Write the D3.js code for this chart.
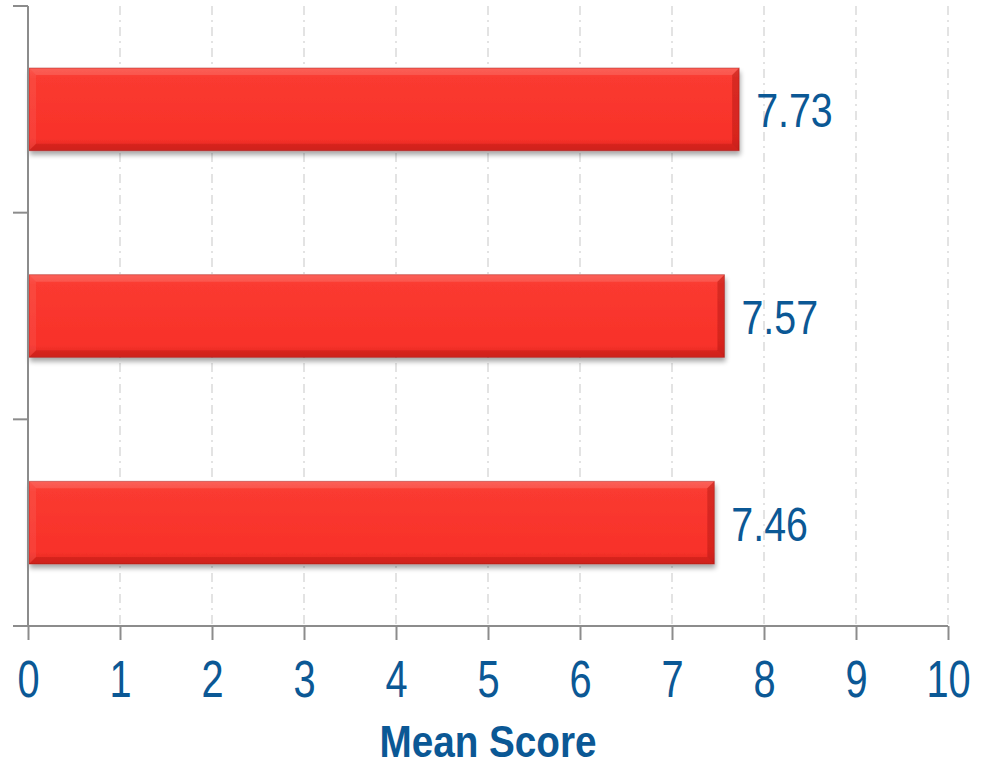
<!DOCTYPE html>
<html>
<head>
<meta charset="utf-8">
<script src="https://cdn.jsdelivr.net/npm/d3@7"></script>
<style>
  body { margin: 0; background: #fff; }
  svg text { font-family: "Liberation Sans", Arial, sans-serif; }
</style>
</head>
<body>
<svg id="chart" width="984" height="766"></svg>
<script>
// chart values
var categories = ['A', 'B', 'C'];
var scores = [7.73, 7.57, 7.46];
var xTicks = [0, 1, 2, 3, 4, 5, 6, 7, 8, 9, 10];
var axisTitle = 'Mean Score';

var svg = d3.select('#chart');
var blue = '#0b5895',
    axisGrey = '#8c8c8c',
    narrow = 0.82; // no narrow font installed, squeeze the text instead

var x = d3.scaleLinear().domain([0, 10]).range([28, 948]);
var y = d3.scaleBand().domain(categories).range([6, 626]).paddingInner(0.6).paddingOuter(0.3);

var defs = svg.append('defs');

var grad = defs.append('linearGradient')
    .attr('id', 'barFill').attr('x1', 0).attr('y1', 0).attr('x2', 0).attr('y2', 1);
grad.append('stop').attr('offset', 0).attr('stop-color', '#fb4a40');
grad.append('stop').attr('offset', 0.12).attr('stop-color', '#fa3a30');
grad.append('stop').attr('offset', 0.85).attr('stop-color', '#f8312a');
grad.append('stop').attr('offset', 1).attr('stop-color', '#e02a22');

var shadow = defs.append('filter').attr('id', 'shadow')
    .attr('x', '-5%').attr('y', '-10%').attr('width', '110%').attr('height', '130%');
shadow.append('feGaussianBlur').attr('in', 'SourceAlpha').attr('stdDeviation', 2.5);
shadow.append('feOffset').attr('dx', 1).attr('dy', 4).attr('result', 'off');
shadow.append('feComponentTransfer').append('feFuncA').attr('type', 'linear').attr('slope', 0.35);
var merge = shadow.append('feMerge');
merge.append('feMergeNode');
merge.append('feMergeNode').attr('in', 'SourceGraphic');

// grid lines
svg.append('g').attr('class', 'grid')
    .selectAll('line')
    .data(xTicks.filter(function(d) { return d > 0; }))
    .enter().append('line')
    .attr('x1', function(d) { return x(d); })
    .attr('x2', function(d) { return x(d); })
    .attr('y1', 6)
    .attr('y2', 626)
    .attr('stroke', '#d4d4d4')
    .attr('stroke-width', 1.3)
    .attr('stroke-dasharray', '9,5,2,5');

// bars
var bevel = 7;
var bars = svg.append('g').attr('class', 'bars')
    .selectAll('g')
    .data(scores)
    .enter().append('g')
    .attr('filter', 'url(#shadow)');

bars.append('rect')
    .attr('x', x(0) + 1)
    .attr('y', function(d, i) { return y(categories[i]); })
    .attr('width', function(d) { return x(d) - x(0) - 1; })
    .attr('height', y.bandwidth())
    .attr('fill', 'url(#barFill)');

// bevel edges: top light, left light, bottom dark, right dark
function bevelPath(d, i, side) {
    var x0 = x(0) + 1, x1 = x(d),
        y0 = y(categories[i]), y1 = y0 + y.bandwidth(), b = bevel;
    if(side === 'top') return [[x0, y0], [x1, y0], [x1 - b, y0 + b], [x0 + b, y0 + b]];
    if(side === 'left') return [[x0, y0], [x0 + b, y0 + b], [x0 + b, y1 - b], [x0, y1]];
    if(side === 'bottom') return [[x0, y1], [x0 + b, y1 - b], [x1 - b, y1 - b], [x1, y1]];
    return [[x1, y0], [x1, y1], [x1 - b, y1 - b], [x1 - b, y0 + b]];
}
var bevelFill = { top: 'rgba(255,255,255,0.12)', left: 'rgba(255,255,255,0.07)',
    bottom: 'rgba(120,0,0,0.18)', right: 'rgba(120,0,0,0.26)' };
['top', 'left', 'bottom', 'right'].forEach(function(side) {
    bars.append('polygon')
        .attr('points', function(d, i) { return bevelPath(d, i, side).join(' '); })
        .attr('fill', bevelFill[side]);
});
bars.append('rect')
    .attr('x', x(0) + 1)
    .attr('y', function(d, i) { return y(categories[i]); })
    .attr('width', function(d) { return x(d) - x(0) - 1; })
    .attr('height', y.bandwidth())
    .attr('fill', 'none')
    .attr('stroke', 'rgba(150,20,15,0.4)')
    .attr('stroke-width', 1);

// value labels
svg.append('g').attr('class', 'labels')
    .selectAll('text')
    .data(scores)
    .enter().append('text')
    .attr('transform', function(d, i) {
        return 'translate(' + (x(d) + 17) + ',' + (y(categories[i]) + y.bandwidth() / 2 + 18) +
            ') scale(' + narrow + ',1)';
    })
    .attr('fill', blue)
    .attr('font-size', 48)
    .text(function(d) { return d.toFixed(2); });

// y axis (category boundaries, no labels)
var yAxis = svg.append('g').attr('class', 'y-axis');
yAxis.append('line')
    .attr('x1', 28).attr('x2', 28).attr('y1', 6).attr('y2', 626)
    .attr('stroke', axisGrey).attr('stroke-width', 2);
var step = y.step();
yAxis.selectAll('line.tick')
    .data([0, 1, 2])
    .enter().append('line')
    .attr('class', 'tick')
    .attr('x1', 13).attr('x2', 28)
    .attr('y1', function(d) { return 6 + d * step; })
    .attr('y2', function(d) { return 6 + d * step; })
    .attr('stroke', axisGrey).attr('stroke-width', 2);

// x axis
var xAxis = svg.append('g').attr('class', 'x-axis')
    .attr('transform', 'translate(0,626)')
    .call(d3.axisBottom(x).tickValues(xTicks).tickSize(14).tickPadding(20).tickSizeOuter(0));
xAxis.select('.domain').attr('stroke', axisGrey).attr('stroke-width', 2)
    .attr('d', 'M13,0H' + x(10));
xAxis.selectAll('.tick line').attr('stroke', axisGrey).attr('stroke-width', 2);
xAxis.selectAll('.tick text')
    .attr('fill', blue)
    .attr('font-size', 51)
    .attr('font-family', '"Liberation Sans", Arial, sans-serif')
    .attr('y', 35)
    .attr('transform', 'scale(' + (narrow - 0.04) + ',1)');

svg.append('text')
    .attr('transform', 'translate(488,757) scale(0.86,1)')
    .attr('text-anchor', 'middle')
    .attr('fill', blue)
    .attr('font-size', 45)
    .attr('font-weight', 'bold')
    .text(axisTitle);
</script>
</body>
</html>
